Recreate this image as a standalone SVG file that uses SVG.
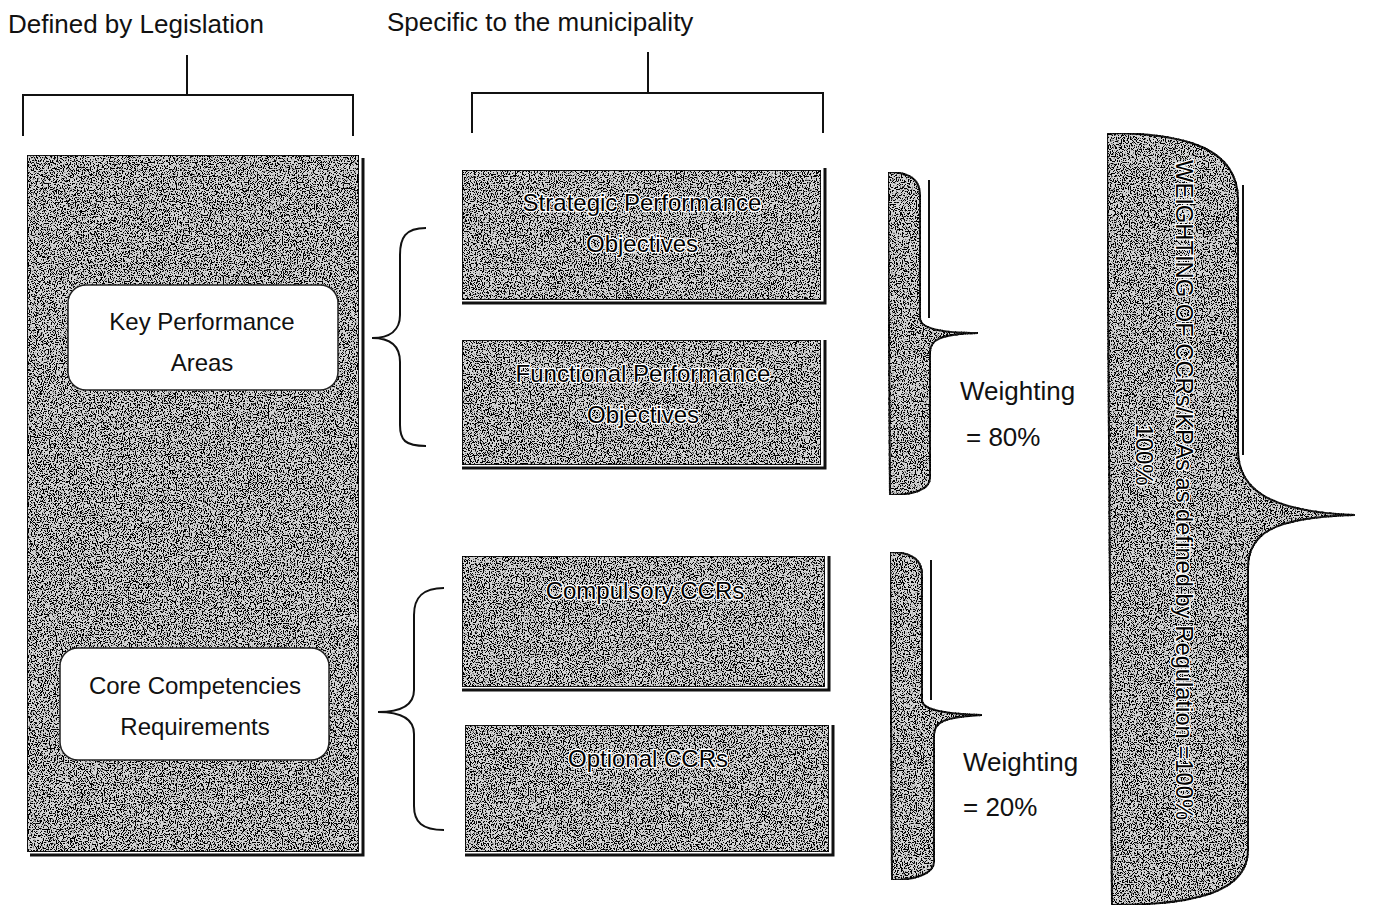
<svg xmlns="http://www.w3.org/2000/svg" width="1388" height="911" viewBox="0 0 1388 911">
<defs>
<filter id="stip" x="0" y="0" width="1" height="1">
<feTurbulence type="fractalNoise" baseFrequency="0.85" numOctaves="2" seed="3" result="n"/>
<feColorMatrix in="n" type="matrix" values="0 0 0 0 0  0 0 0 0 0  0 0 0 0 0  14 0 0 0 -7.0" result="dots"/>
<feComposite in="dots" in2="SourceGraphic" operator="in" result="d"/>
<feMerge><feMergeNode in="SourceGraphic"/><feMergeNode in="d"/></feMerge>
</filter>
<style>
.t{font-family:"Liberation Sans",Arial,sans-serif;font-size:26px;fill:#111}
.tb{font-family:"Liberation Sans",Arial,sans-serif;font-size:24px;fill:#000;text-anchor:middle;stroke:#fff;stroke-width:2.5px;paint-order:stroke}
.g{fill:#d4d4d4;stroke:#1a1a1a;stroke-width:2;filter:url(#stip)}
.ln{fill:none;stroke:#111;stroke-width:2}
.sh{fill:none;stroke:#111;stroke-width:3}
.wb{fill:#fff;stroke:#222;stroke-width:1.5}
.tc{font-family:"Liberation Sans",Arial,sans-serif;font-size:24px;fill:#111;text-anchor:middle}
</style>
</defs>
<g id="headers">
<text class="t" x="8" y="33">Defined by Legislation</text>
<text class="t" x="387" y="31">Specific to the municipality</text>
</g>
<g id="connectors">
<path class="ln" d="M187 55 V95 M23 136 V95 H353 V136"/>
<path class="ln" d="M648 52 V93 M472 133 V93 H823 V133"/>
<path class="ln" d="M426 228 C405 228 400 238 400 255 V315 C400 330 390 338 372 338 C390 338 400 346 400 362 V425 C400 440 405 446 426 446"/>
<path class="ln" d="M444 588 C422 588 414 598 414 615 V690 C414 705 402 712 378 712 C402 712 414 719 414 734 V806 C414 822 422 830 444 830"/>
</g>
<g id="legislation-panel">
<rect class="g" x="27" y="155" width="332" height="697"/>
<path class="sh" d="M30 855 H363 V158"/>
</g>
<g id="kpa">
<rect class="wb" x="68" y="285" width="270" height="105" rx="18"/>
<text class="tc" x="202" y="330">Key Performance</text>
<text class="tc" x="202" y="371">Areas</text>
</g>
<g id="ccr">
<rect class="wb" x="60" y="648" width="269" height="112" rx="18"/>
<text class="tc" x="195" y="694">Core Competencies</text>
<text class="tc" x="195" y="735">Requirements</text>
</g>
<g id="strategic">
<rect class="g" x="462" y="170" width="359" height="130"/>
<path class="sh" d="M462 303 H825 V168"/>
<text class="tb" x="642" y="211">Strategic Performance</text>
<text class="tb" x="642" y="252">Objectives</text>
</g>
<g id="functional">
<rect class="g" x="462" y="340" width="359" height="125"/>
<path class="sh" d="M462 468 H825 V340"/>
<text class="tb" x="643" y="382">Functional Performance</text>
<text class="tb" x="643" y="423">Objectives</text>
</g>
<g id="compulsory">
<rect class="g" x="462" y="556" width="363" height="131"/>
<path class="sh" d="M462 690 H829 V556"/>
<text class="tb" x="645" y="599">Compulsory CCRs</text>
</g>
<g id="optional">
<rect class="g" x="465" y="725" width="364" height="127"/>
<path class="sh" d="M465 855 H833 V725"/>
<text class="tb" x="648" y="767">Optional CCRs</text>
</g>
<g id="brace-80">
<path class="g" d="M888 172 C910 172 920 180 920 195 V318 C920 328 940 333 978 333 C940 334 930 340 930 352 V478 C930 490 912 495 890 495 Z"/>
<path class="ln" stroke-width="1" d="M929 180 V318"/>
<text class="t" x="960" y="400">Weighting</text>
<text class="t" x="966" y="446">= 80%</text>
</g>
<g id="brace-20">
<path class="g" d="M890 552 C912 552 922 560 922 575 V700 C922 710 944 714 982 715 C944 717 934 722 934 735 V862 C934 874 914 880 892 880 Z"/>
<path class="ln" stroke-width="1" d="M931 560 V700"/>
<text class="t" x="963" y="771">Weighting</text>
<text class="t" x="963" y="816">= 20%</text>
</g>
<g id="brace-100">
<path class="g" d="M1107 133 C1190 133 1238 150 1238 200 V450 C1238 490 1270 512 1355 515 C1270 517 1248 535 1248 568 V850 C1248 890 1200 905 1112 905 Z"/>
<path class="ln" stroke-width="1.5" d="M1243 185 V455"/>
<g transform="translate(1176,490) rotate(90)">
<text class="tb" x="0" y="0" font-size="23" textLength="660" lengthAdjust="spacingAndGlyphs">WEIGHTING OF CCRs/KPAs as defined by Regulation =100%</text>
<text class="tb" x="-35" y="40" font-size="22">100%</text>
</g>
</g>
</svg>
